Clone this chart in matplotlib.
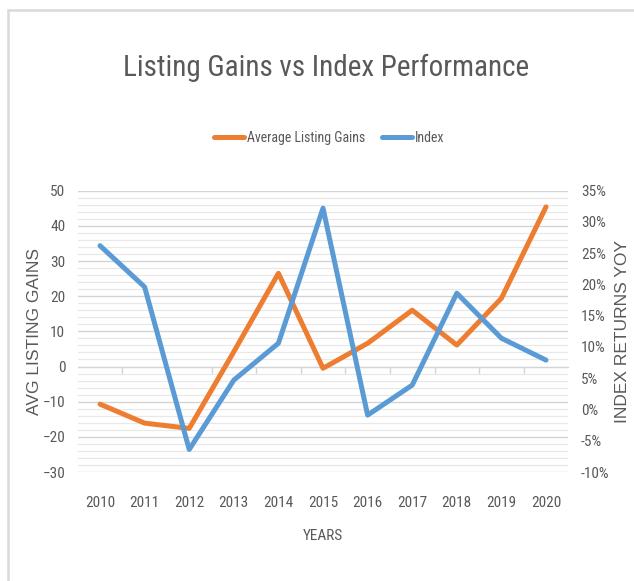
import matplotlib
matplotlib.use("Agg")
import matplotlib.pyplot as plt
from matplotlib import font_manager as fm
from matplotlib.ticker import FuncFormatter, MultipleLocator, NullFormatter
from matplotlib.patches import Rectangle

years = ["2010", "2011", "2012", "2013", "2014", "2015", "2016", "2017", "2018", "2019", "2020"]
avg_listing_gains = [-10.7, -16.1, -17.6, 4.2, 26.5, -0.5, 6.6, 16.0, 6.1, 19.4, 45.4]
index_returns = [0.262, 0.196, -0.064, 0.047, 0.106, 0.322, -0.009, 0.039, 0.186, 0.114, 0.079]
left_ticks = [-30, -20, -10, 0, 10, 20, 30, 40, 50]
right_ticks = [-0.10, -0.05, 0.0, 0.05, 0.10, 0.15, 0.20, 0.25, 0.30, 0.35]

names = {f.name for f in fm.fontManager.ttflist}
stretches = {(f.name, f.stretch) for f in fm.fontManager.ttflist}
NARROW = dict(family="Liberation Sans", stretch="normal")
for cand in ["Liberation Sans Narrow", "Roboto Condensed", "Open Sans Condensed"]:
    if cand in names:
        NARROW = dict(family=cand, stretch="normal")
        break
else:
    for (n, s) in stretches:
        if s in ("condensed", "semi-condensed", 75, 87.5) and n in ("DejaVu Sans", "Open Sans", "Roboto", "Noto Sans"):
            NARROW = dict(family=n, stretch="condensed")
            break

GRAY = "#595959"
ORANGE = "#ED7D31"
BLUE = "#5B9BD5"

fig = plt.figure(figsize=(6.34, 5.81), dpi=100)
fig.patch.set_facecolor("white")

# chart area border
fig.patches.append(Rectangle((8 / 634, -0.2), 1.2, 1.2 - 10 / 581,
                             transform=fig.transFigure, fill=False,
                             edgecolor="#d9d9d9", linewidth=1.8, zorder=0))

ax = fig.add_axes([0.1226, 0.1876, 0.7738, 0.4842])
x = list(range(len(years)))
ax.plot(x, avg_listing_gains, color=ORANGE, lw=3.6, solid_joinstyle="round",
        solid_capstyle="round", label="Average Listing Gains", zorder=3)
ax.set_xlim(-0.5, len(years) - 0.5)
ax.set_ylim(left_ticks[0], left_ticks[-1])
ax.set_yticks(left_ticks)
ax.yaxis.set_minor_locator(MultipleLocator(2))
ax.grid(True, which="major", axis="y", color="#d4d4d4", lw=1.0, zorder=0)
ax.grid(True, which="minor", axis="y", color="#e8e8e8", lw=0.9, zorder=0)
ax.set_axisbelow(True)
for s in ax.spines.values():
    s.set_visible(False)
ax.set_xticks(x)
ax.set_xticklabels(years)
ax.tick_params(axis="x", which="both", length=0, pad=17, labelcolor=GRAY)
ax.tick_params(axis="y", which="both", length=0, pad=9, labelcolor=GRAY)
for lab in ax.get_xticklabels() + ax.get_yticklabels():
    lab.set_fontfamily(NARROW["family"])
    lab.set_fontstretch(NARROW["stretch"])
    lab.set_fontsize(11)

# zero axis with category ticks
zero_frac = (0 - left_ticks[0]) / (left_ticks[-1] - left_ticks[0])
sec = ax.secondary_xaxis(zero_frac)
sec.spines["bottom"].set_color("#d4d4d4")
sec.spines["top"].set_visible(False)
sec.xaxis.set_ticks_position("bottom")
sec.set_xticks([i + 0.5 for i in x[:-1]])
sec.xaxis.set_major_formatter(NullFormatter())
sec.tick_params(axis="x", length=5, width=1, color="#d4d4d4", direction="out",
                labelbottom=False, labeltop=False)

ax.set_xlabel("YEARS", color=GRAY, fontsize=11, family=NARROW["family"],
              fontstretch=NARROW["stretch"], labelpad=14)
ax.set_ylabel("AVG LISTING GAINS", color=GRAY, fontsize=12.5,
              family="Liberation Sans", labelpad=0)

ax2 = ax.twinx()
ax2.plot(x, index_returns, color=BLUE, lw=3.6, solid_joinstyle="round",
         solid_capstyle="round", label="Index", zorder=3)
ax2.set_ylim(right_ticks[0], right_ticks[-1])
ax2.set_yticks(right_ticks)
ax2.yaxis.set_major_formatter(FuncFormatter(lambda v, p: f"{round(v * 100):d}%"))
for s in ax2.spines.values():
    s.set_visible(False)
ax2.tick_params(axis="y", length=0, pad=9, labelcolor=GRAY)
for lab in ax2.get_yticklabels():
    lab.set_fontfamily(NARROW["family"])
    lab.set_fontstretch(NARROW["stretch"])
    lab.set_fontsize(11)
ax2.set_ylabel("INDEX RETURNS YOY", color=GRAY, fontsize=12.5,
               family="Liberation Sans", labelpad=4)

fig.text(0.515, 0.883, "Listing Gains vs Index Performance", ha="center", va="center",
         color=GRAY, fontsize=21, family=NARROW["family"], fontstretch=NARROW["stretch"])

h1, l1 = ax.get_legend_handles_labels()
h2, l2 = ax2.get_legend_handles_labels()
leg = fig.legend(h1 + h2, l1 + l2, loc="center", bbox_to_anchor=(0.519, 0.7625),
                 ncol=2, frameon=False, handlelength=2.2, handletextpad=0.2,
                 columnspacing=1.2, prop=dict(family=NARROW["family"],
                                             stretch=NARROW["stretch"], size=10))
for t in leg.get_texts():
    t.set_color(GRAY)

fig.savefig("out.png", dpi=100, facecolor="white")
